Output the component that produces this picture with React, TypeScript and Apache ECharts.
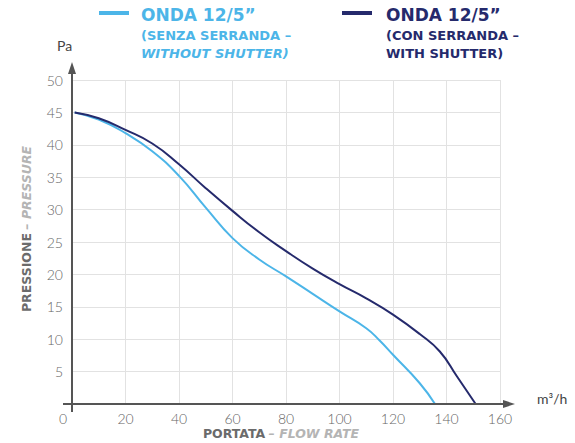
import React, { useEffect, useRef } from "react";
import * as echarts from "echarts";

const xTicks = [0, 20, 40, 60, 80, 100, 120, 140, 160];
const yTicks = [0, 5, 10, 15, 20, 25, 30, 35, 40, 45, 50];

const withoutShutter: [number, number][] = [
  [1, 45], [10, 43.9], [20, 41.8], [30, 39.0], [40, 35.2], [50, 30.3],
  [60, 25.6], [70, 22.3], [80, 19.7], [90, 17.0], [100, 14.3],
  [110, 11.7], [115, 9.8], [120, 7.6], [130, 3.2], [135.7, 0],
];
const withShutter: [number, number][] = [
  [1, 45], [10, 44.1], [20, 42.3], [30, 40.2], [40, 37.0], [50, 33.3],
  [60, 29.8], [70, 26.5], [80, 23.6], [90, 20.9], [100, 18.5],
  [110, 16.3], [120, 13.8], [130, 10.8], [137.5, 8.1], [144, 4.2], [150.9, 0],
];

const LIGHT = "#4cb5e8";
const DARK = "#252a6c";
const AXIS = "#555555";
const LABEL = "#666666";

const G = { left: 72, right: 75, top: 80, bottom: 39 };

export default function App() {
  const ref = useRef<HTMLDivElement>(null);
  useEffect(() => {
    if (!ref.current) return;
    const chart = echarts.init(ref.current, null, { renderer: "svg" });
    const W = 575, H = 443;
    const x0 = G.left, y0 = H - G.bottom, x1 = W - G.right, yTop = G.top;
    const legendFont = "DejaVu Sans";
    const nameRich = {
      a: { fontFamily: legendFont, fontWeight: "bold", fontSize: 12.5, fill: "#6b6b6b", color: "#6b6b6b", lineHeight: 13 },
      b: { fontFamily: legendFont, fontWeight: "bold", fontStyle: "italic", fontSize: 12.5, fill: "#b4b4b4", color: "#b4b4b4", lineHeight: 13 },
    };
    chart.setOption({
      animation: false,
      grid: { ...G, containLabel: false, outerBoundsMode: "none" },
      xAxis: {
        type: "value",
        min: xTicks[0],
        max: xTicks[xTicks.length - 1],
        interval: 20,
        axisLine: { show: false },
        axisTick: { show: false },
        splitLine: { show: true, lineStyle: { color: "#e2e2e2", width: 1 } },
        axisLabel: {
          color: LABEL,
          fontSize: 14,
          fontFamily: "Lato",
          fontWeight: 300,
          margin: 7,
          lineHeight: 14,
          formatter: (v: number) => (v === 0 ? "{z|0}" : String(v)),
          rich: { z: { padding: [0, 18, 0, 0], color: LABEL, fontSize: 14, fontFamily: "Lato", fontWeight: 300, lineHeight: 14 } },
        },
      },
      yAxis: {
        type: "value",
        min: yTicks[0],
        max: yTicks[yTicks.length - 1],
        interval: 5,
        axisLine: { show: false },
        axisTick: { show: false },
        splitLine: { show: true, lineStyle: { color: "#e2e2e2", width: 1 } },
        axisLabel: {
          color: LABEL,
          fontSize: 14,
          fontFamily: "Lato",
          fontWeight: 300,
          margin: 9,
          showMinLabel: false,
        },
      },
      series: [
        {
          name: "without",
          type: "line",
          data: withoutShutter,
          showSymbol: false,
          smooth: 0.5,
          lineStyle: { color: LIGHT, width: 2 },
          itemStyle: { color: LIGHT },
          z: 3,
        },
        {
          name: "with",
          type: "line",
          data: withShutter,
          showSymbol: false,
          smooth: 0.5,
          lineStyle: { color: DARK, width: 2 },
          itemStyle: { color: DARK },
          z: 4,
        },
      ],
      graphic: [
        // axes
        { type: "line", shape: { x1: x0, y1: y0 + 8, x2: x0, y2: yTop - 8 }, style: { stroke: AXIS, lineWidth: 2 }, z: 10 },
        { type: "polygon", shape: { points: [[x0, yTop - 18], [x0 - 4, yTop - 6], [x0 + 4, yTop - 6]] }, style: { fill: AXIS }, z: 10 },
        { type: "line", shape: { x1: x0 - 9, y1: y0, x2: x1 + 6, y2: y0 }, style: { stroke: AXIS, lineWidth: 2 }, z: 10 },
        { type: "polygon", shape: { points: [[x1 + 15, y0], [x1 + 3, y0 - 4], [x1 + 3, y0 + 4]] }, style: { fill: AXIS }, z: 10 },
        { type: "text", x: 57, y: 38, style: { text: "Pa", fill: "#444", fontSize: 14, fontFamily: "Lato" } },
        { type: "text", x: 537, y: 391, style: { text: "m³/h", fill: "#444", fontSize: 14, fontFamily: "Lato" } },
        // axis names
        {
          type: "text", x: 281, y: 433,
          style: { text: "{a|PORTATA} {b|– FLOW RATE}", align: "center", verticalAlign: "middle", rich: nameRich },
        },
        {
          type: "text", x: 26, y: 229, rotation: Math.PI / 2,
          style: { text: "{a|PRESSIONE} {b|– PRESSURE}", align: "center", verticalAlign: "middle", rich: nameRich },
        },
        // legend
        { type: "rect", shape: { x: 99, y: 11, width: 30, height: 4 }, style: { fill: LIGHT } },
        { type: "text", x: 141, y: 6, style: { text: "ONDA 12/5”", fill: LIGHT, fontSize: 17, fontWeight: "bold", fontFamily: legendFont } },
        { type: "text", x: 141, y: 29, style: { text: "(SENZA SERRANDA –", fill: LIGHT, fontSize: 13, fontWeight: "bold", fontFamily: legendFont } },
        { type: "text", x: 141, y: 47, style: { text: "WITHOUT SHUTTER)", fill: LIGHT, fontSize: 13, fontWeight: "bold", fontStyle: "italic", fontFamily: legendFont } },
        { type: "rect", shape: { x: 342, y: 11, width: 30, height: 4 }, style: { fill: DARK } },
        { type: "text", x: 386, y: 6, style: { text: "ONDA 12/5”", fill: DARK, fontSize: 17, fontWeight: "bold", fontFamily: legendFont } },
        { type: "text", x: 386, y: 29, style: { text: "(CON SERRANDA –", fill: DARK, fontSize: 13, fontWeight: "bold", fontFamily: legendFont } },
        { type: "text", x: 386, y: 47, style: { text: "WITH SHUTTER)", fill: DARK, fontSize: 13, fontWeight: "bold", fontFamily: legendFont } },
      ],
    });
    return () => chart.dispose();
  }, []);
  return <div ref={ref} style={{ width: 575, height: 443, position: "absolute", left: 0, top: 0 }} />;
}
